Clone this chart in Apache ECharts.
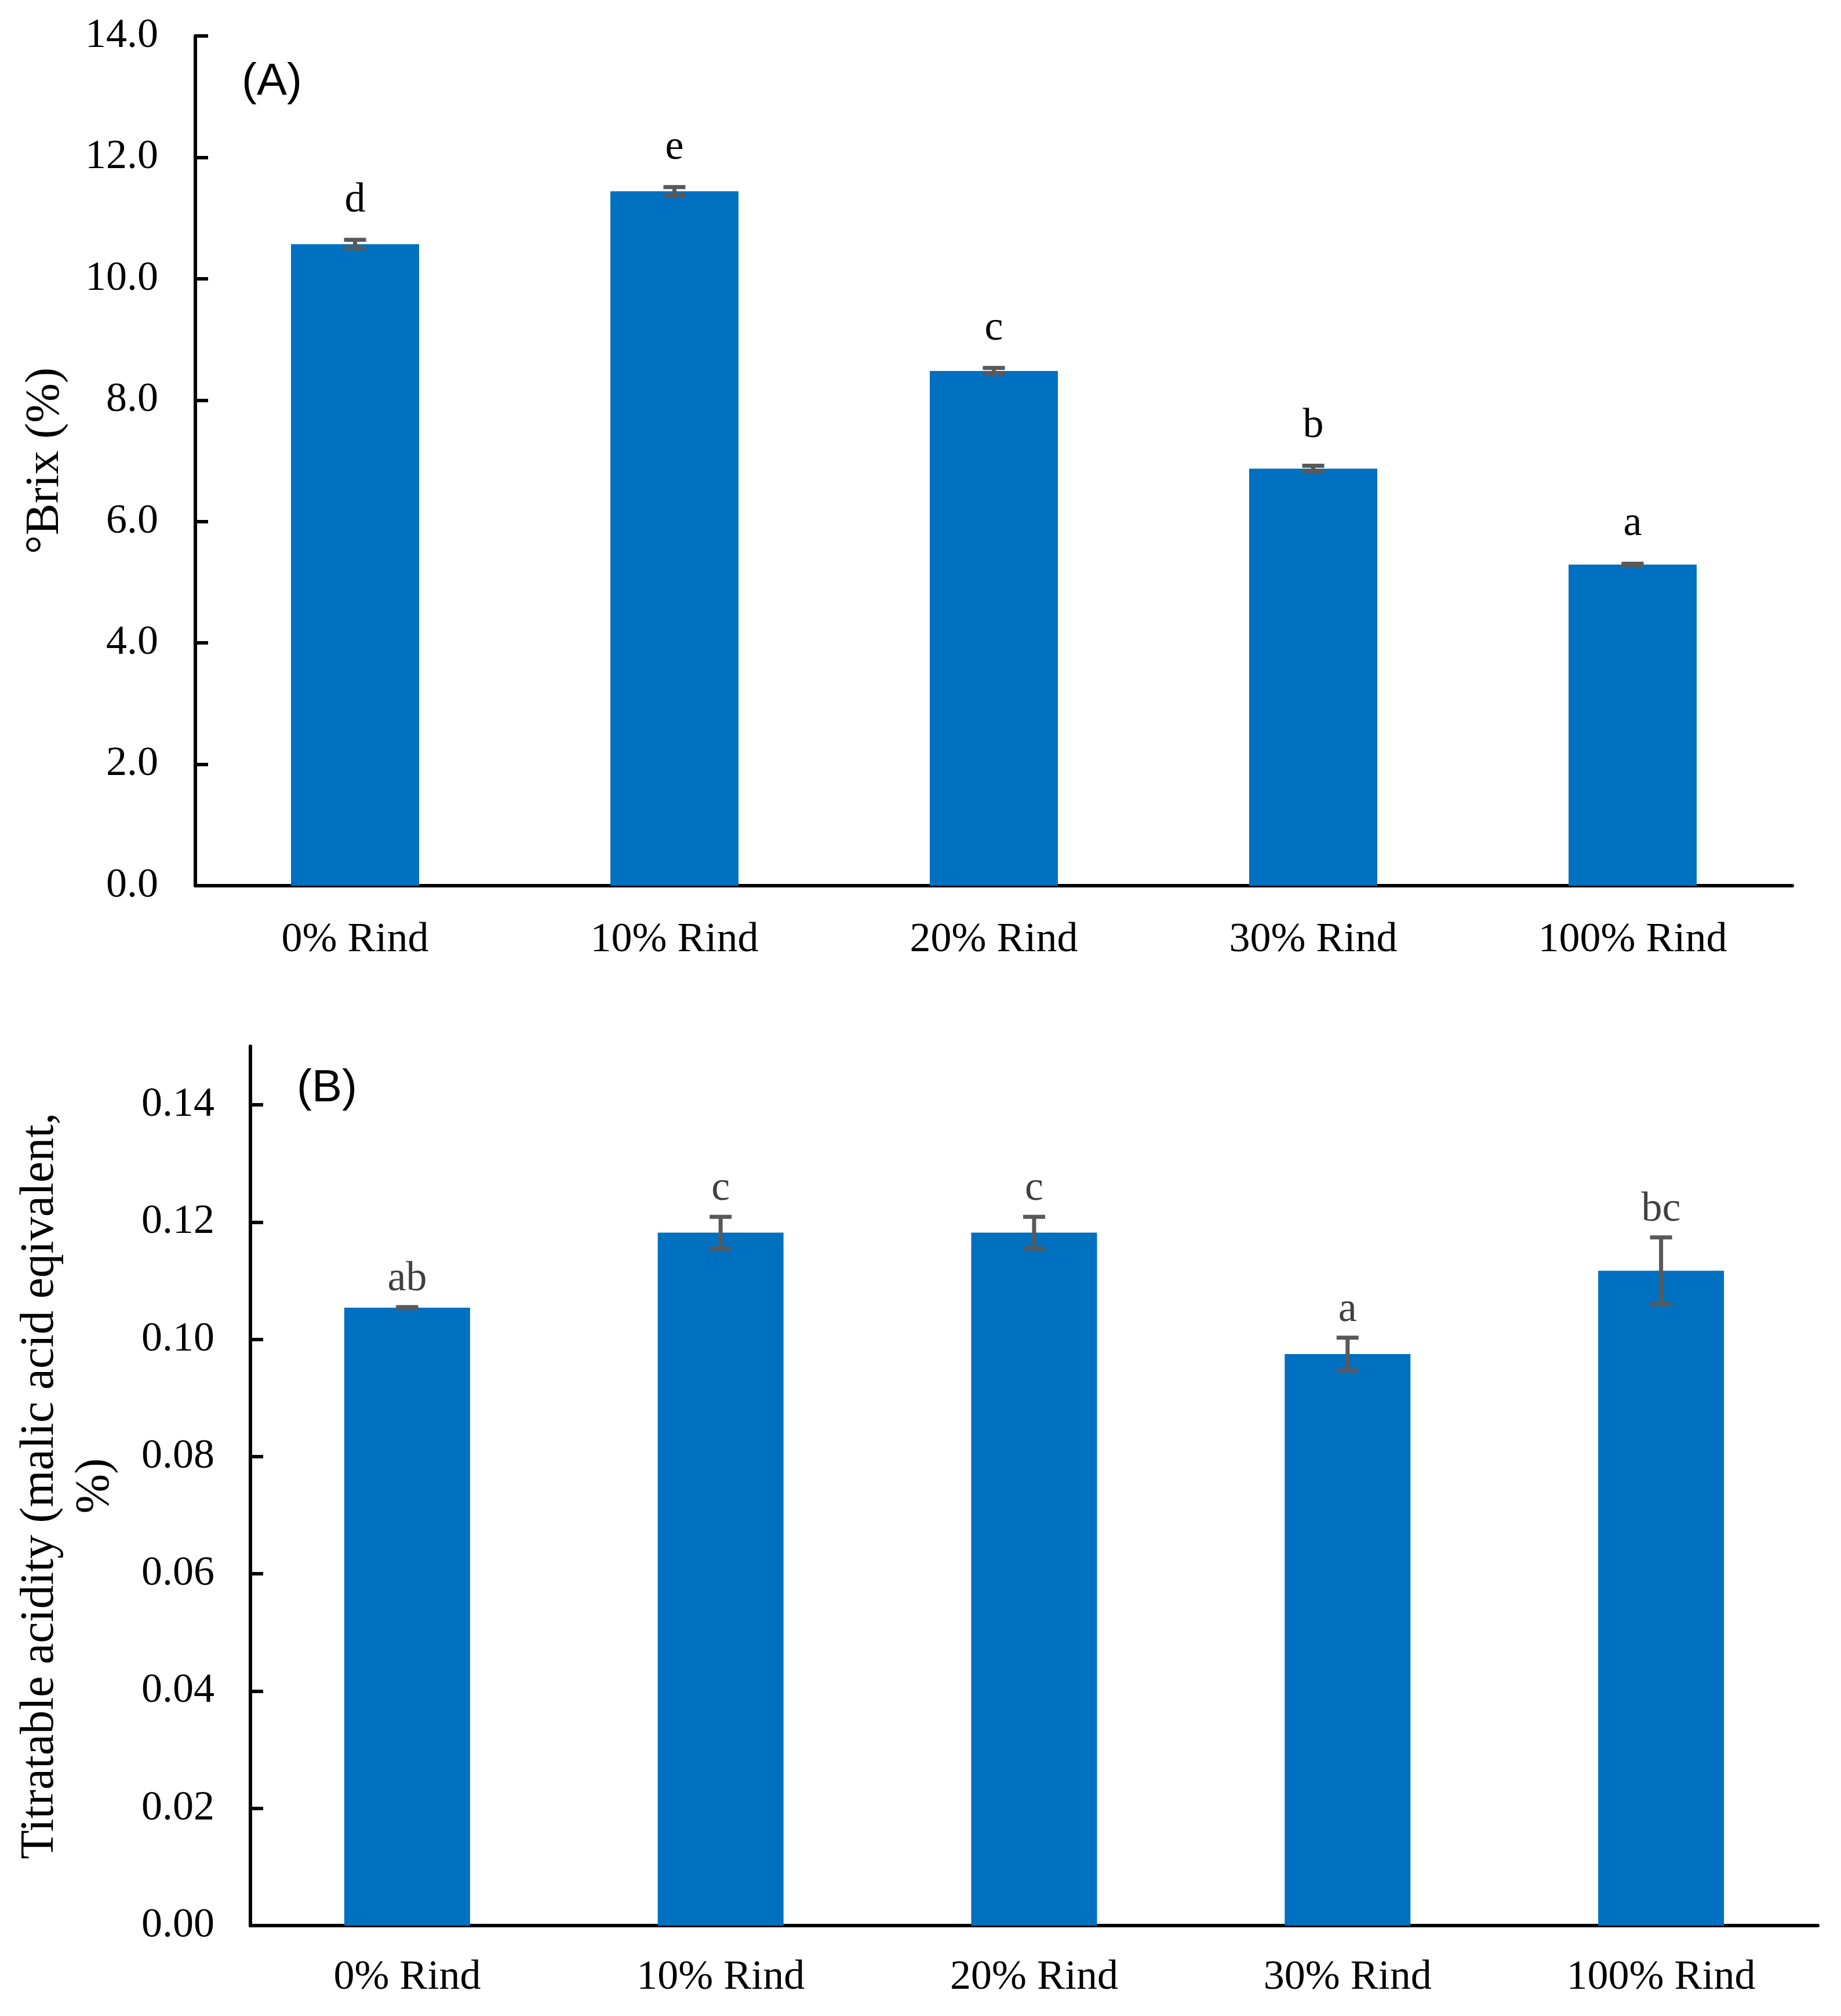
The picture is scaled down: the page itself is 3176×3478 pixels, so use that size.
<!DOCTYPE html>
<html>
<head>
<meta charset="utf-8">
<script src="https://cdn.jsdelivr.net/npm/echarts@6/dist/echarts.min.js"></script>
<style>
html,body{margin:0;padding:0;background:#fff;}
#chart{width:3176px;height:3478px;}
</style>
</head>
<body>
<div id="chart"></div>
<script>
const categories = ['0% Rind', '10% Rind', '20% Rind', '30% Rind', '100% Rind'];

const brixValues = [10.57, 11.44, 8.48, 6.87, 5.29];
const brixErrors = [0.07, 0.07, 0.05, 0.05, 0.015];
const brixLetters = ['d', 'e', 'c', 'b', 'a'];
const brixTicks = [0, 2, 4, 6, 8, 10, 12, 14];

const acidValues = [0.1054, 0.1182, 0.1182, 0.0975, 0.1117];
const acidErrors = [0.0001, 0.0027, 0.0027, 0.0028, 0.0057];
const acidLetters = ['ab', 'c', 'c', 'a', 'bc'];
const acidTicks = [0, 0.02, 0.04, 0.06, 0.08, 0.10, 0.12, 0.14];

const SERIF = 'Liberation Serif';
const BAR = '#0070C0';
const ERR = '#595959';

function errData(values, errors) {
  return values.map((v, i) => [i, v, errors[i]]);
}

function makeRender(letters, gap, textColor) {
  return function (params, api) {
    const i = params.dataIndex;
    const v = api.value(1), e = api.value(2);
    const x = api.coord([i, v])[0];
    const yt = api.coord([i, v + e])[1];
    const yb = api.coord([i, v - e])[1];
    const hw = 19;
    const ls = { stroke: ERR, lineWidth: 7 };
    return {
      type: 'group',
      children: [
        { type: 'line', shape: { x1: x, y1: yt, x2: x, y2: yb }, style: ls },
        { type: 'line', shape: { x1: x - hw, y1: yt, x2: x + hw, y2: yt }, style: ls },
        { type: 'line', shape: { x1: x - hw, y1: yb, x2: x + hw, y2: yb }, style: ls },
        { type: 'text', style: { text: letters[i], x: x, y: yt - gap, align: 'center', verticalAlign: 'middle',
          fontFamily: SERIF, fontSize: 72, fill: textColor } }
      ]
    };
  };
}

const axisLineStyle = { color: '#000', width: 6 };

const option = {
  backgroundColor: '#fff',
  animation: false,
  title: [
    { text: '(A)', left: 412, top: 98, textStyle: { fontFamily: 'Liberation Sans', fontSize: 78, fontWeight: 'normal', color: '#000' } },
    { text: '(B)', left: 507, top: 1834, textStyle: { fontFamily: 'Liberation Sans', fontSize: 78, fontWeight: 'normal', color: '#000' } }
  ],
  grid: [
    { left: 337, right: 84, top: 62, height: 1466 },
    { left: 432, right: 40, top: 1805, height: 1517 }
  ],
  xAxis: [
    { type: 'category', gridIndex: 0, data: categories,
      axisLine: { lineStyle: axisLineStyle }, axisTick: { show: false },
      axisLabel: { fontFamily: SERIF, fontSize: 72, color: '#000', margin: 58 } },
    { type: 'category', gridIndex: 1, data: categories,
      axisLine: { lineStyle: axisLineStyle }, axisTick: { show: false },
      axisLabel: { fontFamily: SERIF, fontSize: 72, color: '#000', margin: 54 } }
  ],
  yAxis: [
    { type: 'value', gridIndex: 0, min: 0, max: 14, interval: 2,
      name: '°Brix (%)', nameLocation: 'middle', nameGap: 218,
      nameTextStyle: { fontFamily: SERIF, fontSize: 82, color: '#000' },
      axisLine: { show: true, lineStyle: axisLineStyle },
      axisTick: { show: true, inside: true, length: 22, lineStyle: { color: '#000', width: 6 }, customValues: brixTicks },
      axisLabel: { fontFamily: SERIF, fontSize: 72, color: '#000', margin: 64, formatter: v => v.toFixed(1), customValues: brixTicks },
      splitLine: { show: false } },
    { type: 'value', gridIndex: 1, min: 0, max: 0.15, interval: 0.02,
      name: 'Titratable acidity (malic acid eqivalent,\n%)', nameLocation: 'middle', nameGap: 220,
      nameTextStyle: { fontFamily: SERIF, fontSize: 82, color: '#000', lineHeight: 95, align: 'center' },
      axisLine: { show: true, lineStyle: axisLineStyle },
      axisTick: { show: true, inside: true, length: 22, lineStyle: { color: '#000', width: 6 }, customValues: acidTicks },
      axisLabel: { fontFamily: SERIF, fontSize: 72, color: '#000', margin: 62, formatter: v => v.toFixed(2), customValues: acidTicks },
      splitLine: { show: false } }
  ],
  series: [
    { type: 'bar', xAxisIndex: 0, yAxisIndex: 0, data: brixValues, barWidth: 221,
      itemStyle: { color: BAR } },
    { type: 'custom', xAxisIndex: 0, yAxisIndex: 0, data: errData(brixValues, brixErrors),
      renderItem: makeRender(brixLetters, 68, '#000'), z: 5 },
    { type: 'bar', xAxisIndex: 1, yAxisIndex: 1, data: acidValues, barWidth: 217,
      itemStyle: { color: BAR } },
    { type: 'custom', xAxisIndex: 1, yAxisIndex: 1, data: errData(acidValues, acidErrors),
      renderItem: makeRender(acidLetters, 48, '#404040'), z: 5 }
  ]
};

const chart = echarts.init(document.getElementById('chart'), null, { renderer: 'canvas' });
chart.setOption(option);
</script>
</body>
</html>
